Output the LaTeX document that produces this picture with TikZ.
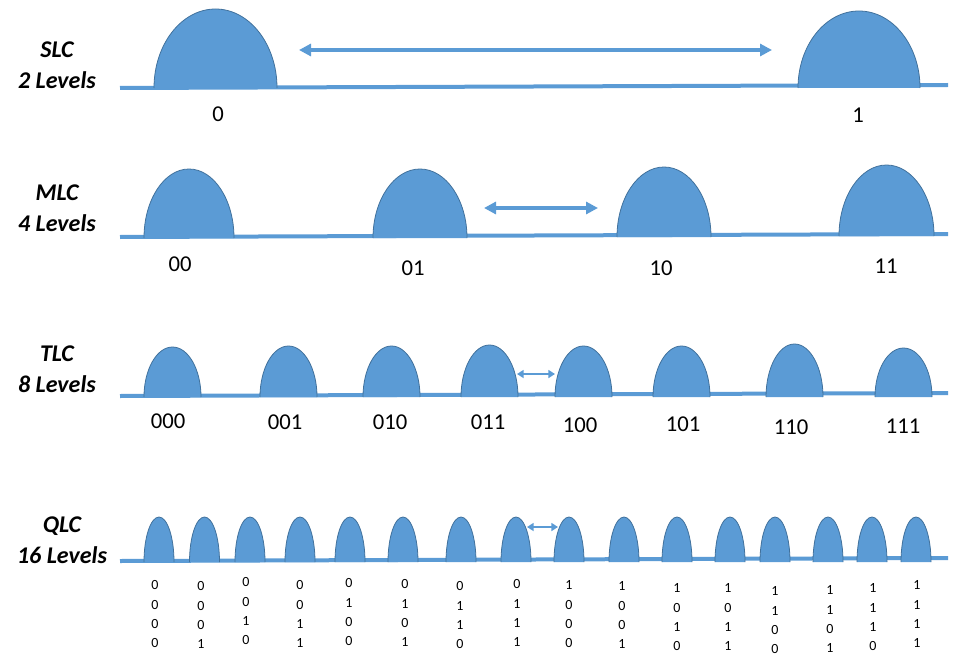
\documentclass[tikz,border=0pt]{standalone}
\usepackage{fontspec}
\setmainfont{Carlito}
\usetikzlibrary{arrows.meta}
\definecolor{cellblue}{RGB}{91,155,213}
\definecolor{celledge}{RGB}{65,113,156}
% one charge distribution: centre x, half width, base y, height
\newcommand{\cellbump}[4]{\filldraw[bump] (#1-#2,-#3) arc[start angle=180,end angle=0,x radius=#2,y radius=#4];}
\begin{document}
\begin{tikzpicture}[x=0.75pt, y=0.75pt,
    base/.style={draw=cellblue, line width=3pt},
    bump/.style={fill=cellblue, draw=celledge, line width=0.6pt},
    gap/.style={draw=cellblue, line width=3pt, {Triangle[length=9pt,width=9pt]}-{Triangle[length=9pt,width=9pt]}},
    smallgap/.style={draw=cellblue, line width=1.8pt, {Triangle[length=5pt,width=6pt]}-{Triangle[length=5pt,width=6pt]}},
    kind/.style={align=center, font=\fontsize{18}{23}\selectfont\bfseries\itshape},
    lvl/.style={font=\fontsize{17}{20}\selectfont},
    bits/.style={align=center, anchor=north, font=\fontsize{10.5}{14.5}\selectfont}]
\useasboundingbox (0,0) rectangle (977,-656);

% SLC
\node[kind] (slc) at (57,-65) {SLC\\2 Levels};
\draw[base] (120,-88) -- (948,-85);
\cellbump{215.5}{61.5}{88}{79}
\cellbump{859}{61}{88}{77}
\coordinate (slcL) at (299,-50);
\coordinate (slcR) at (772,-50);
\draw[gap] (slcL) -- (slcR);
\node[lvl] (s0) at (218,-114) {0};
\node[lvl] (s1) at (858,-115) {1};

% MLC
\node[kind] (mlc) at (57,-208) {MLC\\4 Levels};
\draw[base] (120,-237) -- (948,-234);
\cellbump{189}{45}{238}{69}
\cellbump{420}{47}{238}{69}
\cellbump{664}{47}{237}{70}
\cellbump{886.5}{47.5}{236}{71}
\coordinate (mlcL) at (484,-208);
\coordinate (mlcR) at (598,-208);
\draw[gap] (mlcL) -- (mlcR);
\node[lvl] (m00) at (180,-264) {00};
\node[lvl] (m01) at (413,-268) {01};
\node[lvl] (m10) at (661,-268) {10};
\node[lvl] (m11) at (886,-266) {11};

% TLC
\node[kind] (tlc) at (57,-369) {TLC\\8 Levels};
\draw[base] (120,-396) -- (948,-393);
\foreach \x/\t in {172.5/347, 288.5/346, 391.5/346, 489.5/345, 583.5/346, 681.5/346, 794.5/344, 903.5/348}
  \cellbump{\x}{28.5}{397}{397-\t}
\coordinate (tlcL) at (517,-374);
\coordinate (tlcR) at (555,-374);
\draw[smallgap] (tlcL) -- (tlcR);
\node[lvl] (t000) at (168,-421) {000};
\node[lvl] (t001) at (285,-422) {001};
\node[lvl] (t010) at (390,-422) {010};
\node[lvl] (t011) at (488,-422) {011};
\node[lvl] (t100) at (580,-425) {100};
\node[lvl] (t101) at (683,-424) {101};
\node[lvl] (t110) at (791,-427) {110};
\node[lvl] (t111) at (903,-426) {111};

% QLC
\node[kind] (qlc) at (62,-540) {QLC\\16 Levels};
\draw[base] (120,-561) -- (948,-558);
\foreach \x in {159,204.5,250,300,350,403,461,516,569,624,677,730,775,828,872,916}
  \cellbump{\x}{15}{562}{45}
\coordinate (qlcL) at (527,-527);
\coordinate (qlcR) at (558,-527);
\draw[smallgap] (qlcL) -- (qlcR);
\foreach \x/\y/\a/\b/\c/\d [count=\i] in {155/576/0/0/0/0, 201/577/0/0/0/1, 246/573/0/0/1/0, 300/576/0/0/1/1,
    349/574/0/1/0/0, 405/575/0/1/0/1, 460/577/0/1/1/0, 517/575/0/1/1/1,
    569/576/1/0/0/0, 622/577/1/0/0/1, 677/579/1/0/1/0, 728/579/1/0/1/1,
    775/582/1/1/0/0, 830/581/1/1/0/1, 873/579/1/1/1/0, 917/576/1/1/1/1}
  \node[bits] (q\i) at (\x,-\y) {\a\\\b\\\c\\\d};
\end{tikzpicture}
\end{document}
